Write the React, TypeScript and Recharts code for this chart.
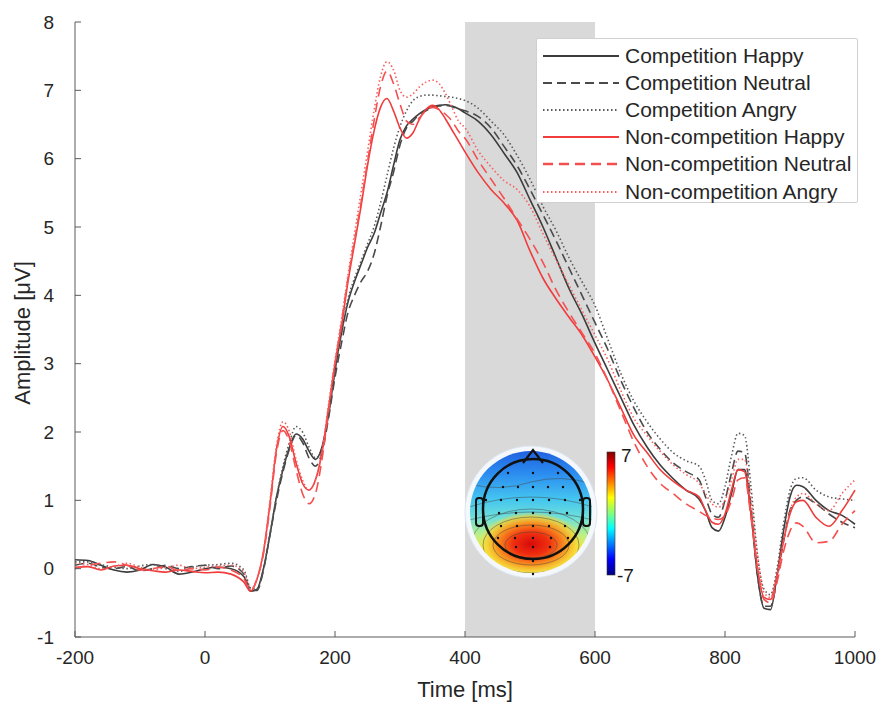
import { LineChart, Line, XAxis, YAxis, ReferenceArea, Label } from "recharts"

// time points (ms)
const times = [
  -200, -180, -160, -140, -120, -100, -80, -60, -40, -20, 0, 20, 40,
  60, 70, 80, 90, 100, 110, 120, 130, 140, 150, 160, 170, 180, 190,
  200, 210, 220, 230, 240, 250, 260, 270, 280, 290, 300, 310, 320, 330, 340, 350, 360, 370, 380, 390, 400,
  420, 440, 460, 480, 500, 520, 540, 560, 580, 600, 620, 640, 660, 680, 700, 720, 740, 760,
  770, 780, 790, 800, 810, 820, 830, 840, 850, 860, 870, 880, 890, 900, 910, 920, 940, 960, 980, 1000,
]

const compHappy = [
  0.13, 0.12, 0.05, -0.02, -0.05, -0.02, 0.06, 0.02, -0.08, -0.05, 0.0, 0.02, 0.0,
  -0.12, -0.33, -0.3, 0.0, 0.5, 1.05, 1.45, 1.78, 1.97, 1.9, 1.72, 1.6, 1.78, 2.25,
  2.9, 3.45, 3.9, 4.2, 4.45, 4.7, 4.9, 5.2, 5.5, 5.9, 6.28, 6.48, 6.58, 6.66, 6.72, 6.76, 6.78, 6.79, 6.77, 6.73, 6.67,
  6.55, 6.35, 6.08, 5.8, 5.4, 5.0, 4.55, 4.1, 3.72, 3.3, 2.9, 2.5, 2.1, 1.78, 1.52, 1.32, 1.15, 1.02,
  0.85, 0.6, 0.55, 0.75, 1.1, 1.45, 1.45, 0.8, -0.1, -0.58, -0.6, -0.1, 0.55, 1.05, 1.22, 1.2, 1.0, 0.85, 0.78, 0.65,
]

const compNeutral = [
  0.05, 0.08, 0.02, 0.0, 0.03, -0.03, 0.0, 0.05, 0.0, 0.03, 0.05, 0.0, 0.04,
  -0.08, -0.3, -0.32, -0.02, 0.5, 1.0, 1.42, 1.75, 1.95, 1.85, 1.62, 1.5, 1.7, 2.2,
  2.8, 3.3, 3.75, 4.0, 4.2, 4.35, 4.6, 5.0, 5.45, 5.8, 6.2, 6.45, 6.55, 6.65, 6.7, 6.75, 6.77, 6.78, 6.76, 6.73, 6.7,
  6.62, 6.45, 6.18, 5.9, 5.55, 5.18, 4.8, 4.4, 4.0, 3.6, 3.2, 2.75, 2.35, 2.0, 1.75, 1.55, 1.42, 1.3,
  1.05, 0.8, 0.75, 1.0, 1.4, 1.72, 1.7, 0.9, -0.1, -0.55, -0.55, -0.15, 0.4, 0.85, 1.0, 1.05, 0.95, 0.8, 0.68, 0.6,
]

const compAngry = [
  0.1, 0.1, 0.06, 0.02, 0.0, 0.04, 0.06, 0.0, -0.04, 0.02, 0.05, 0.06, 0.08,
  -0.02, -0.28, -0.3, 0.0, 0.52, 1.05, 1.5, 1.85, 2.08, 2.0, 1.78, 1.62, 1.75, 2.25,
  2.9, 3.45, 3.95, 4.25, 4.5, 4.75, 5.0, 5.35, 5.75, 6.15, 6.47, 6.7, 6.85, 6.91, 6.93, 6.93, 6.92, 6.91, 6.9, 6.88, 6.85,
  6.74, 6.55, 6.35, 6.05, 5.7, 5.3, 4.95, 4.55, 4.2, 3.85, 3.35, 2.85, 2.45, 2.15, 1.9, 1.7, 1.58, 1.5,
  1.3, 1.0, 0.95, 1.2, 1.65, 1.98, 1.95, 1.2, 0.2, -0.3, -0.38, 0.0, 0.65, 1.15, 1.32, 1.33, 1.15, 1.05, 1.02, 1.0,
]

const nonHappy = [
  0.02, 0.03, -0.02, 0.04, 0.05, 0.0, -0.03, -0.05, -0.02, -0.04, -0.06, -0.05, -0.08,
  -0.2, -0.33, -0.15, 0.25, 0.95, 1.75, 2.08, 1.92, 1.55, 1.25, 1.15, 1.3, 1.7, 2.35,
  3.0, 3.55, 4.2, 4.75, 5.3, 5.9, 6.4, 6.75, 6.88, 6.7, 6.45, 6.3, 6.38, 6.58, 6.72, 6.78, 6.72, 6.58, 6.42, 6.26, 6.1,
  5.8, 5.55, 5.35, 5.1, 4.65, 4.25, 3.95, 3.68, 3.42, 3.1, 2.75, 2.35, 1.95, 1.7, 1.45, 1.28, 1.15, 1.05,
  0.85, 0.68, 0.65, 0.8, 1.15, 1.45, 1.42, 0.8, 0.0, -0.42, -0.45, -0.1, 0.4, 0.8, 0.98, 1.0, 0.75, 0.62, 0.85, 1.15,
]

const nonNeutral = [
  0.0, 0.05, 0.08, 0.1, 0.05, -0.02, 0.0, 0.03, -0.03, 0.0, -0.02, 0.02, -0.02,
  -0.15, -0.32, -0.15, 0.22, 0.9, 1.7, 2.02, 1.85, 1.45, 1.1, 0.95, 1.1, 1.6, 2.3,
  3.0, 3.6, 4.25, 4.8, 5.35, 5.95, 6.55, 7.05, 7.28, 7.1, 6.8, 6.55, 6.5, 6.6, 6.7, 6.75, 6.72, 6.65, 6.55, 6.4, 6.3,
  5.98, 5.7, 5.42, 5.12, 4.82, 4.48, 4.08, 3.75, 3.45, 3.15, 2.75, 2.3, 1.85, 1.5, 1.25, 1.1, 0.95, 0.84,
  0.78, 0.74, 0.72, 0.78, 1.0, 1.3, 1.33, 0.75, 0.0, -0.45, -0.5, -0.2, 0.25, 0.55, 0.67, 0.62, 0.38, 0.4, 0.65, 0.85,
]

const nonAngry = [
  0.08, 0.06, 0.0, 0.03, 0.08, 0.02, -0.02, 0.02, 0.05, 0.0, 0.02, 0.04, 0.05,
  -0.05, -0.3, -0.15, 0.25, 1.0, 1.8, 2.15, 2.0, 1.6, 1.3, 1.15, 1.3, 1.72, 2.4,
  3.05, 3.65, 4.3, 4.9, 5.5, 6.1, 6.7, 7.2, 7.42, 7.3, 7.0, 6.9, 6.95, 7.05, 7.12, 7.15, 7.1, 6.95, 6.75, 6.55, 6.45,
  6.12, 5.88, 5.68, 5.55, 5.3, 4.9, 4.52, 4.15, 3.78, 3.42, 3.05, 2.6, 2.2, 1.95, 1.72, 1.52, 1.38, 1.25,
  1.1, 0.95, 0.9, 1.0, 1.3, 1.6, 1.6, 1.0, 0.2, -0.35, -0.42, -0.1, 0.4, 0.85, 1.05, 1.1, 0.95, 0.85, 1.1, 1.3,
]

const xTicks = [-200, 0, 200, 400, 600, 800, 1000]
const yTicks = [-1, 0, 1, 2, 3, 4, 5, 6, 7, 8]

const series = [
  { key: "ch", name: "Competition Happy", values: compHappy, color: "#3c3c3c", dash: undefined },
  { key: "cn", name: "Competition Neutral", values: compNeutral, color: "#4a4a4a", dash: "9 5" },
  { key: "ca", name: "Competition Angry", values: compAngry, color: "#5a5a5a", dash: "1.5 2.5" },
  { key: "nh", name: "Non-competition Happy", values: nonHappy, color: "#f03c3c", dash: undefined },
  { key: "nn", name: "Non-competition Neutral", values: nonNeutral, color: "#f55050", dash: "10 6" },
  { key: "na", name: "Non-competition Angry", values: nonAngry, color: "#f66060", dash: "1.5 2.5" },
]

const data = times.map((t, i) => {
  const row: any = { t }
  series.forEach((s) => (row[s.key] = s.values[i]))
  return row
})

const font = "'Liberation Sans', Arial, sans-serif"

function LegendBox() {
  return (
    <div
      style={{
        position: "absolute", left: 536, top: 38, width: 322, height: 165,
        border: "1px solid #d0d0d0", borderRadius: 2, background: "#fff", boxSizing: "border-box", paddingTop: 3,
      }}
    >
      {series.map((s) => (
        <div key={s.key} style={{ display: "flex", alignItems: "center", height: 27.2 }}>
          <svg width={88} height={10} style={{ flex: "none" }}>
            <line x1={6} x2={82} y1={5} y2={5} stroke={s.color} strokeWidth={s.dash === "10 6" ? 2.5 : 2} strokeDasharray={s.dash} />
          </svg>
          <span style={{ fontFamily: font, fontSize: 21, color: "#262626", whiteSpace: "nowrap" }}>{s.name}</span>
        </div>
      ))}
    </div>
  )
}

function Topomap() {
  const cx = 531
  const cy = 512
  const dots: [number, number][] = []
  const rows = [
    { y: 473, xs: [-25, 0, 25] },
    { y: 487, xs: [-45, -30, -15, 0, 15, 30, 45] },
    { y: 500, xs: [-47, -32, -16, 0, 16, 32, 47] },
    { y: 513, xs: [-50, -34, -17, 0, 17, 34, 50] },
    { y: 526, xs: [-47, -32, -16, 0, 16, 32, 47] },
    { y: 538, xs: [-35, -18, 0, 18, 35] },
    { y: 547, xs: [-17, 0, 17] },
    { y: 561, xs: [0] },
    { y: 574, xs: [0] },
  ]
  rows.forEach((r) => r.xs.forEach((dx) => dots.push([cx + dx + 2, r.y])))
  return (
    <svg width={882} height={706} style={{ position: "absolute", left: 0, top: 0, pointerEvents: "none" }}>
      <defs>
        <linearGradient id="topoBase" x1="0" y1="0" x2="0" y2="1">
          <stop offset="0" stopColor="#1f5fe0" />
          <stop offset="0.2" stopColor="#2c8ff0" />
          <stop offset="0.4" stopColor="#45c6f0" />
          <stop offset="0.55" stopColor="#6fe0d8" />
          <stop offset="0.68" stopColor="#b8f08a" />
          <stop offset="0.8" stopColor="#f5e840" />
          <stop offset="1" stopColor="#e8e070" />
        </linearGradient>
        <radialGradient id="topoHot" cx="0.5" cy="0.5" r="0.5">
          <stop offset="0" stopColor="#d80a0a" />
          <stop offset="0.35" stopColor="#f03010" />
          <stop offset="0.65" stopColor="#f89020" />
          <stop offset="0.85" stopColor="#f8d030" stopOpacity="0.8" />
          <stop offset="1" stopColor="#f8e040" stopOpacity="0" />
        </radialGradient>
        <linearGradient id="jet" x1="0" y1="0" x2="0" y2="1">
          <stop offset="0" stopColor="#800000" />
          <stop offset="0.12" stopColor="#ff0000" />
          <stop offset="0.37" stopColor="#ffff00" />
          <stop offset="0.5" stopColor="#80ff80" />
          <stop offset="0.62" stopColor="#00ffff" />
          <stop offset="0.87" stopColor="#0000ff" />
          <stop offset="1" stopColor="#000080" />
        </linearGradient>
        <clipPath id="disc">
          <circle cx={cx} cy={cy} r={61} />
        </clipPath>
      </defs>
      <circle cx={cx} cy={cy} r={66} fill="#f4f8fc" stroke="#dde6f0" strokeWidth={1} />
      <g clipPath="url(#disc)">
        <rect x={cx - 62} y={cy - 62} width={124} height={124} fill="url(#topoBase)" />
        <ellipse cx={cx} cy={cy + 32} rx={52} ry={32} fill="url(#topoHot)" />
        {[[60, 36], [48, 28], [38, 20], [26, 13]].map(([rx, ry], i) => (
          <ellipse key={i} cx={cx} cy={cy + 33} rx={rx} ry={ry} fill="none" stroke="#444" strokeWidth={0.8} opacity={0.6} />
        ))}
        <path d={`M ${cx - 62} ${cy - 5} Q ${cx} ${cy - 25} ${cx + 62} ${cy - 5}`} fill="none" stroke="#444" strokeWidth={0.8} opacity={0.6} />
        <path d={`M ${cx - 62} ${cy - 28} Q ${cx - 30} ${cy - 20} ${cx} ${cy - 30} Q ${cx + 30} ${cy - 38} ${cx + 62} ${cy - 28}`} fill="none" stroke="#444" strokeWidth={0.8} opacity={0.6} />
        <path d={`M ${cx - 62} ${cy + 8} Q ${cx} ${cy - 8} ${cx + 62} ${cy + 8}`} fill="none" stroke="#444" strokeWidth={0.8} opacity={0.6} />
      </g>
      <path d={`M ${cx - 8} ${cy - 49} L ${cx + 2} ${cy - 62} L ${cx + 12} ${cy - 49}`} fill="none" stroke="#111" strokeWidth={2.2} />
      <rect x={cx - 55} y={cy - 14} width={7} height={28} rx={3} fill="none" stroke="#111" strokeWidth={2} />
      <rect x={cx + 52} y={cy - 14} width={7} height={28} rx={3} fill="none" stroke="#111" strokeWidth={2} />
      <circle cx={cx + 2} cy={cy - 3} r={50} fill="none" stroke="#111" strokeWidth={2.5} />
      {dots.map(([x, y], i) => (
        <circle key={i} cx={x} cy={y} r={1.2} fill="#111" />
      ))}
      <rect x={607} y={452} width={8} height={123} fill="url(#jet)" stroke="#333" strokeWidth={0.6} />
      <text x={621} y={462} fontFamily={font} fontSize={19} fill="#1a1a1a">7</text>
      <text x={617} y={582} fontFamily={font} fontSize={19} fill="#1a1a1a">-7</text>
    </svg>
  )
}

export default function App() {
  return (
    <div style={{ position: "absolute", left: 0, top: 0, width: 882, height: 706, background: "#fff" }}>
      <LineChart width={882} height={706} data={data} margin={{ top: 22, right: 27, left: 20, bottom: 29 }}>
        <ReferenceArea x1={400} x2={600} y1={-1} y2={8} fill="#d9d9d9" fillOpacity={1} stroke="none" ifOverflow="visible" />
        <XAxis
          dataKey="t"
          type="number"
          domain={[-200, 1000]}
          ticks={xTicks}
          height={40}
          tickSize={-6}
          tickMargin={20}
          stroke="#5a5a5a"
          tick={{ fill: "#262626", fontSize: 19, fontFamily: font }}
        >
          <Label
            content={() => (
              <text x={465} y={697} textAnchor="middle" fontFamily={font} fontSize={22} fill="#262626">
                Time [ms]
              </text>
            )}
          />
        </XAxis>
        <YAxis
          type="number"
          domain={[-1, 8]}
          ticks={yTicks}
          width={55}
          tickSize={-6}
          tickMargin={27}
          stroke="#5a5a5a"
          tick={{ fill: "#262626", fontSize: 19, fontFamily: font }}
        >
          <Label
            content={() => (
              <text x={30} y={333} transform="rotate(-90 30 333)" textAnchor="middle" fontFamily={font} fontSize={22} fill="#262626">
                Amplitude [μV]
              </text>
            )}
          />
        </YAxis>
        {series.map((s) => (
          <Line
            key={s.key}
            dataKey={s.key}
            name={s.name}
            type="monotone"
            stroke={s.color}
            strokeWidth={1.6}
            strokeDasharray={s.dash}
            dot={false}
            activeDot={false}
            isAnimationActive={false}
          />
        ))}
      </LineChart>
      <LegendBox />
      <Topomap />
    </div>
  )
}
